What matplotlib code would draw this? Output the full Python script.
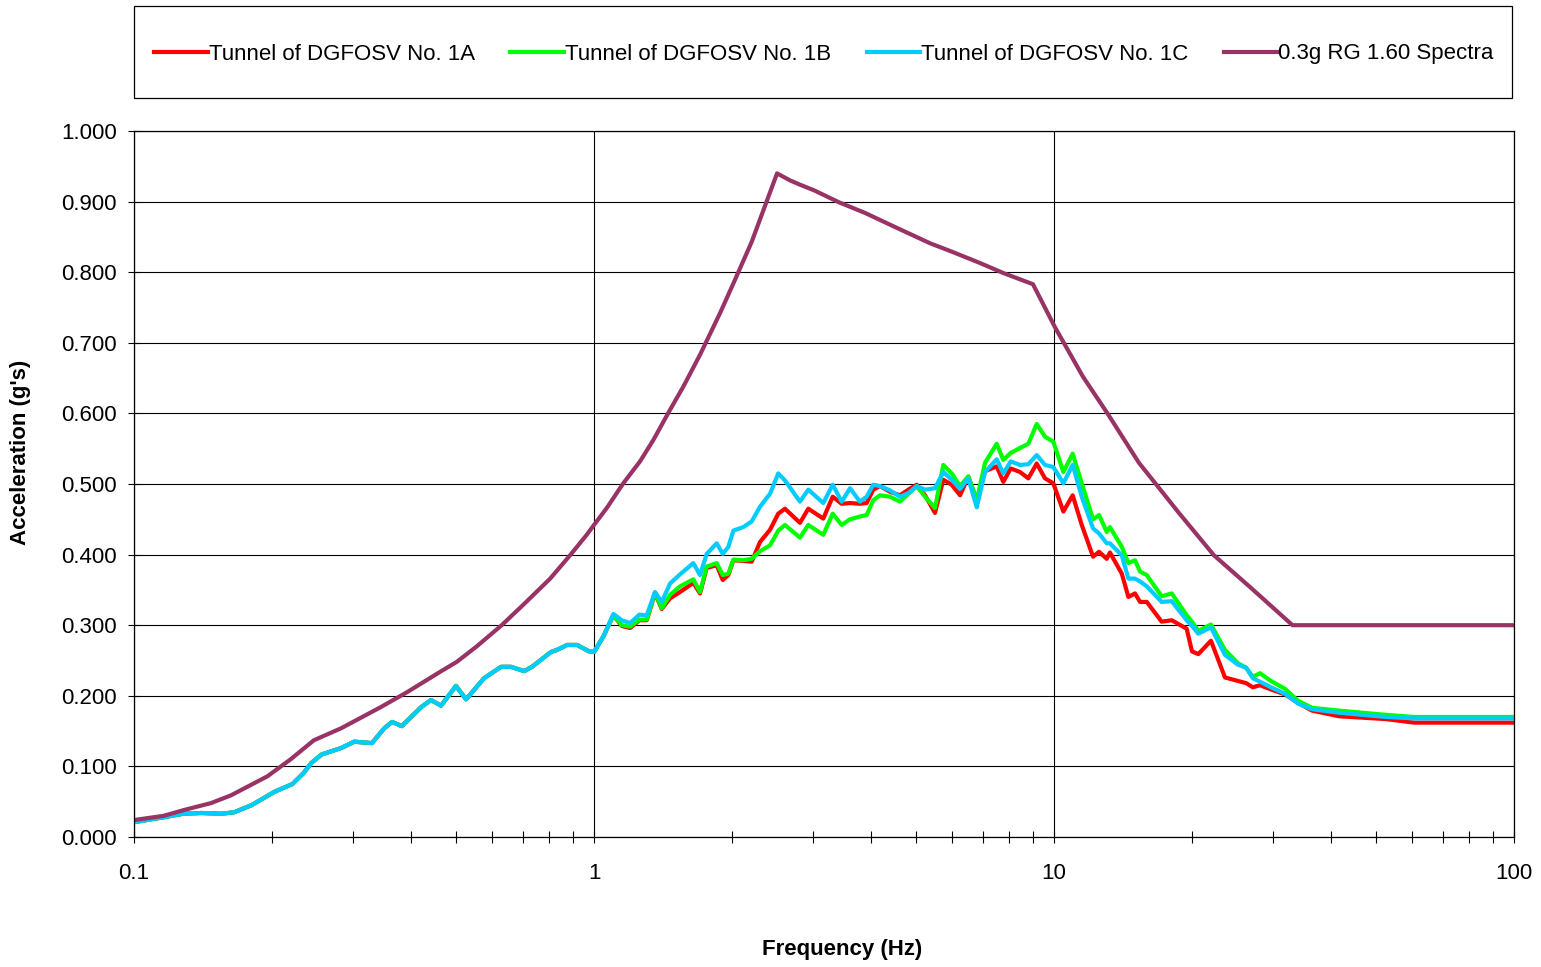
import matplotlib
matplotlib.use('Agg')
import matplotlib.pyplot as plt
from matplotlib.ticker import FixedLocator, FormatStrFormatter, NullFormatter
from matplotlib.patches import Rectangle

plt.rcParams['font.family'] = ['Liberation Sans', 'DejaVu Sans']

# ---------------- data ----------------
freq_tunnel = [
    0.100, 0.116, 0.128, 0.140, 0.155, 0.165, 0.180, 0.202, 0.221, 0.234,
    0.243, 0.256, 0.282, 0.301, 0.329, 0.350, 0.364, 0.382, 0.421, 0.442,
    0.465, 0.501, 0.527, 0.577, 0.628, 0.660, 0.705, 0.733, 0.806, 0.831,
    0.874, 0.919, 0.975, 1.000,
    1.048, 1.102, 1.149, 1.198, 1.255, 1.302, 1.357, 1.404, 1.463, 1.538,
    1.644, 1.700, 1.758, 1.848, 1.905, 1.959, 2.009, 2.112, 2.202, 2.296,
    2.413, 2.515, 2.601, 2.804, 2.923, 3.151, 3.303, 3.455, 3.602, 3.786,
    3.915, 4.047, 4.184, 4.400, 4.626, 4.823, 5.030, 5.244, 5.512, 5.746,
    5.993, 6.248, 6.513, 6.792, 7.079, 7.506, 7.759, 8.052, 8.435, 8.793,
    9.171, 9.559, 9.966,
    10.48, 10.98, 11.49, 12.16, 12.53, 13.02, 13.23, 14.04, 14.51, 15.00,
    15.38, 15.91, 17.14, 18.03, 19.43, 19.95, 20.59, 21.94, 23.53, 25.12,
    26.15, 27.05, 28.04, 29.62, 31.78, 33.92, 36.39, 41.65, 52.69, 60.62,
    100.0,
]

low_shared = [
    0.021, 0.028, 0.033, 0.034, 0.033, 0.035, 0.045, 0.064, 0.075, 0.091,
    0.105, 0.117, 0.126, 0.135, 0.133, 0.154, 0.163, 0.157, 0.184, 0.194,
    0.186, 0.214, 0.195, 0.225, 0.241, 0.241, 0.235, 0.241, 0.262, 0.265,
    0.272, 0.272, 0.263, 0.262,
]

tunnel_1a = low_shared + [
    0.284, 0.314, 0.299, 0.296, 0.307, 0.307, 0.345, 0.323, 0.338, 0.347,
    0.360, 0.345, 0.381, 0.385, 0.364, 0.371, 0.392, 0.391, 0.390, 0.418,
    0.435, 0.458, 0.465, 0.445, 0.465, 0.451, 0.482, 0.472, 0.473, 0.472,
    0.473, 0.492, 0.497, 0.489, 0.484, 0.492, 0.499, 0.484, 0.459, 0.506,
    0.499, 0.484, 0.510, 0.477, 0.518, 0.525, 0.503, 0.522, 0.517, 0.508,
    0.529, 0.508, 0.501,
    0.461, 0.484, 0.442, 0.397, 0.404, 0.394, 0.403, 0.373, 0.340, 0.345,
    0.333, 0.333, 0.305, 0.307, 0.295, 0.263, 0.259, 0.278, 0.226, 0.221,
    0.218, 0.212, 0.215, 0.209, 0.202, 0.190, 0.179, 0.171, 0.167, 0.162,
    0.162,
]

tunnel_1b = low_shared + [
    0.284, 0.314, 0.300, 0.298, 0.308, 0.308, 0.346, 0.324, 0.343, 0.355,
    0.365, 0.347, 0.383, 0.388, 0.371, 0.373, 0.393, 0.392, 0.394, 0.405,
    0.413, 0.434, 0.442, 0.424, 0.442, 0.428, 0.458, 0.442, 0.450, 0.454,
    0.456, 0.477, 0.484, 0.482, 0.475, 0.486, 0.497, 0.482, 0.466, 0.527,
    0.515, 0.497, 0.511, 0.477, 0.530, 0.557, 0.534, 0.544, 0.551, 0.557,
    0.585, 0.567, 0.560,
    0.517, 0.543, 0.501, 0.450, 0.456, 0.432, 0.439, 0.411, 0.388, 0.392,
    0.376, 0.371, 0.341, 0.345, 0.314, 0.305, 0.292, 0.301, 0.265, 0.246,
    0.240, 0.227, 0.232, 0.221, 0.210, 0.193, 0.183, 0.179, 0.173, 0.170,
    0.170,
]

tunnel_1c = low_shared + [
    0.284, 0.316, 0.307, 0.303, 0.315, 0.314, 0.347, 0.333, 0.359, 0.372,
    0.388, 0.371, 0.401, 0.416, 0.401, 0.411, 0.434, 0.439, 0.447, 0.468,
    0.486, 0.515, 0.505, 0.475, 0.492, 0.473, 0.499, 0.475, 0.494, 0.475,
    0.482, 0.499, 0.497, 0.491, 0.482, 0.487, 0.497, 0.492, 0.494, 0.517,
    0.506, 0.493, 0.508, 0.467, 0.517, 0.535, 0.515, 0.532, 0.527, 0.528,
    0.541, 0.527, 0.524,
    0.501, 0.527, 0.482, 0.437, 0.430, 0.416, 0.416, 0.399, 0.366, 0.366,
    0.362, 0.355, 0.333, 0.334, 0.307, 0.299, 0.288, 0.297, 0.258, 0.244,
    0.240, 0.225, 0.220, 0.212, 0.203, 0.189, 0.181, 0.176, 0.170, 0.168,
    0.168,
]

freq_rg = [
    0.100, 0.116, 0.128, 0.147, 0.1625, 0.195, 0.219, 0.246, 0.282, 0.344,
    0.392, 0.463, 0.503, 0.556, 0.630, 0.702, 0.803, 0.887, 0.964, 1.000,
    1.066, 1.158, 1.259, 1.345, 1.463, 1.564, 1.700, 1.879, 2.009, 2.202,
    2.5, 2.668, 2.804, 3.008, 3.409, 3.882, 4.512, 5.376, 6.001, 6.905,
    7.746, 9.0, 10.05, 11.56, 13.04, 15.30, 18.69, 22.27, 26.68, 33.0,
    100.0,
]
rg160 = [
    0.024, 0.030, 0.038, 0.048, 0.059, 0.086, 0.110, 0.137, 0.154, 0.184,
    0.205, 0.234, 0.248, 0.270, 0.300, 0.329, 0.366, 0.399, 0.428, 0.442,
    0.466, 0.501, 0.532, 0.562, 0.605, 0.638, 0.683, 0.742, 0.784, 0.843,
    0.940, 0.930, 0.924, 0.916, 0.899, 0.884, 0.864, 0.841, 0.829, 0.813,
    0.799, 0.783, 0.722, 0.652, 0.601, 0.530, 0.459, 0.399, 0.354, 0.300,
    0.300,
]

series_labels = ["Tunnel of DGFOSV No. 1A", "Tunnel of DGFOSV No. 1B",
                 "Tunnel of DGFOSV No. 1C", "0.3g RG 1.60 Spectra"]
series_colors = ["#FF0000", "#00FF00", "#00CCFF", "#993366"]
y_ticks = [0.0, 0.1, 0.2, 0.3, 0.4, 0.5, 0.6, 0.7, 0.8, 0.9, 1.0]
x_ticks = [0.1, 1, 10, 100]
x_ticklabels = ["0.1", "1", "10", "100"]

# ---------------- figure ----------------
W, H = 1541, 967
fig = plt.figure(figsize=(W / 100, H / 100), dpi=100)
ax = fig.add_axes([134 / W, 1 - 837 / H, (1514 - 134) / W, (837 - 131) / H])

lw = 3.0
handles = []
for xs, ys, lab, col in [
    (freq_tunnel, tunnel_1a, series_labels[0], series_colors[0]),
    (freq_tunnel, tunnel_1b, series_labels[1], series_colors[1]),
    (freq_tunnel, tunnel_1c, series_labels[2], series_colors[2]),
    (freq_rg, rg160, series_labels[3], series_colors[3]),
]:
    h, = ax.plot(xs, ys, color=col, lw=lw, label=lab, solid_joinstyle='round')
    handles.append(h)

ax.set_xscale('log')
ax.set_xlim(0.1, 100)
ax.set_ylim(0, 1.0)

ax.xaxis.set_major_locator(FixedLocator(x_ticks))
ax.set_xticklabels(x_ticklabels)
minor = [m * d for d in (0.1, 1, 10) for m in range(2, 10)]
ax.xaxis.set_minor_locator(FixedLocator(minor))
ax.xaxis.set_minor_formatter(NullFormatter())
ax.yaxis.set_major_locator(FixedLocator(y_ticks))
ax.yaxis.set_major_formatter(FormatStrFormatter('%.3f'))

ax.tick_params(axis='both', which='major', direction='inout', length=9,
               width=0.8, color='black', labelsize=16, labelcolor='black')
ax.tick_params(axis='x', which='major', pad=14)
ax.tick_params(axis='y', which='major', pad=8)
ax.tick_params(axis='x', which='minor', direction='inout', length=9, width=0.8)

ax.grid(True, which='major', axis='both', color='black', lw=0.8)
ax.set_axisbelow(True)
for s in ax.spines.values():
    s.set_color('black')
    s.set_linewidth(0.9)

fig.text(842 / W, 1 - 950 / H, "Frequency (Hz)", ha='center', va='center',
         fontsize=16, fontweight='bold')
fig.text(21 / W, 1 - 452 / H, "Acceleration (g's)", ha='center', va='center',
         rotation=90, fontsize=16, fontweight='bold')

# legend box
fig.patches.append(Rectangle((134 / W, 1 - 98 / H), (1512 - 134) / W, (98 - 6) / H,
                             transform=fig.transFigure, fill=False,
                             edgecolor='black', lw=0.9))
leg = fig.legend(handles=handles, labels=series_labels, loc='center',
                 bbox_to_anchor=(824 / W, 1 - 54 / H), ncol=4, frameon=False,
                 fontsize=16, handlelength=2.4, handletextpad=0.05,
                 columnspacing=1.6, borderpad=0)

fig.savefig('out.png', dpi=100)
